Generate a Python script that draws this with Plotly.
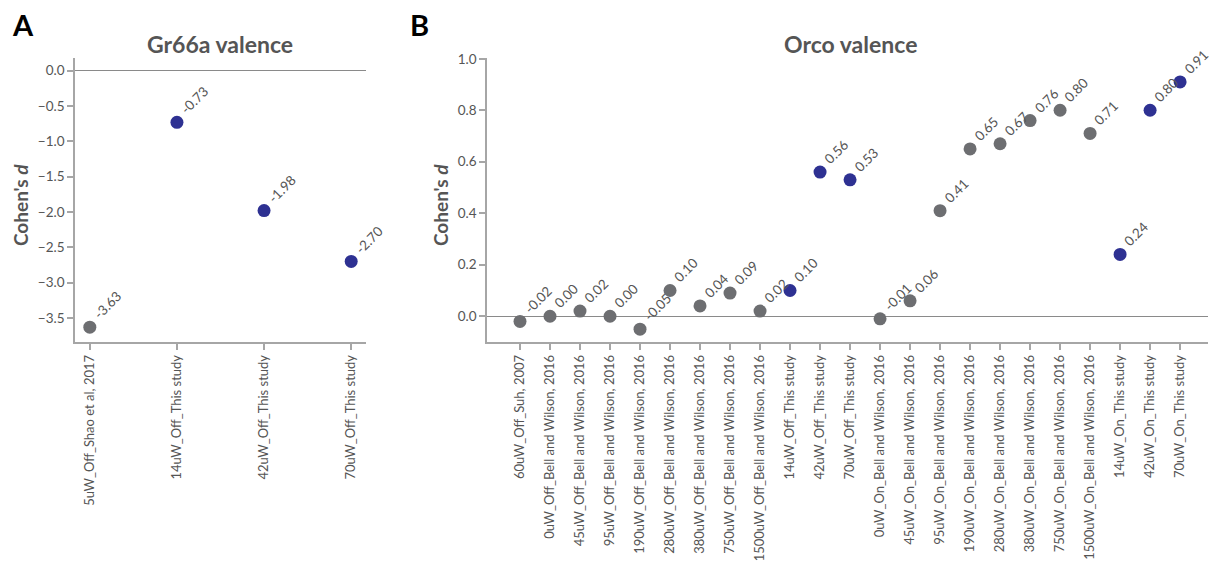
import plotly.graph_objects as go

# Gr66a valence (panel A)
gr66a_labels = ["5uW_Off_Shao et al, 2017", "14uW_Off_This study",
                "42uW_Off_This study", "70uW_Off_This study"]
gr66a_d = [-3.63, -0.73, -1.98, -2.70]

# Orco valence (panel B)
orco_labels = [
    "60uW_Off_Suh, 2007",
    "0uW_Off_Bell and Wilson, 2016",
    "45uW_Off_Bell and Wilson, 2016",
    "95uW_Off_Bell and Wilson, 2016",
    "190uW_Off_Bell and Wilson, 2016",
    "280uW_Off_Bell and Wilson, 2016",
    "380uW_Off_Bell and Wilson, 2016",
    "750uW_Off_Bell and Wilson, 2016",
    "1500uW_Off_Bell and Wilson, 2016",
    "14uW_Off_This study",
    "42uW_Off_This study",
    "70uW_Off_This study",
    "0uW_On_Bell and Wilson, 2016",
    "45uW_On_Bell and Wilson, 2016",
    "95uW_On_Bell and Wilson, 2016",
    "190uW_On_Bell and Wilson, 2016",
    "280uW_On_Bell and Wilson, 2016",
    "380uW_On_Bell and Wilson, 2016",
    "750uW_On_Bell and Wilson, 2016",
    "1500uW_On_Bell and Wilson, 2016",
    "14uW_On_This study",
    "42uW_On_This study",
    "70uW_On_This study",
]
orco_d = [-0.02, 0.00, 0.02, 0.00, -0.05, 0.10, 0.04, 0.09, 0.02, 0.10,
          0.56, 0.53, -0.01, 0.06, 0.41, 0.65, 0.67, 0.76, 0.80, 0.71,
          0.24, 0.80, 0.91]

GRAY = "#6d6e71"
BLUE = "#2e3192"
TEXT = "#555555"
AXIS = "#a6a6a6"
FONT = "Source Sans Pro, Lato, sans-serif"


def colors_for(labels):
    return [BLUE if "This study" in lab else GRAY for lab in labels]


fig = go.Figure()

fig.add_trace(go.Scatter(
    x=gr66a_labels, y=gr66a_d, mode="markers",
    marker=dict(size=13, color=colors_for(gr66a_labels)),
    xaxis="x", yaxis="y", showlegend=False, hoverinfo="x+y",
))
fig.add_trace(go.Scatter(
    x=orco_labels, y=orco_d, mode="markers",
    marker=dict(size=13, color=colors_for(orco_labels)),
    xaxis="x2", yaxis="y2", showlegend=False, hoverinfo="x+y",
))

# rotated value labels next to each point
annotations = []
for xref, yref, labels, vals in (("x", "y", gr66a_labels, gr66a_d),
                                 ("x2", "y2", orco_labels, orco_d)):
    for lab, v in zip(labels, vals):
        annotations.append(dict(
            x=lab, y=v, xref=xref, yref=yref, text=f"{v:.2f}",
            showarrow=False, textangle=-45, xanchor="left", yanchor="bottom",
            xshift=-2, yshift=2, font=dict(family=FONT, size=13.5, color=TEXT),
        ))

H = 565.0
W = 1210.0


def py(px):
    return 1 - px / H


def px_x(px):
    return px / W


# panel letters, titles and axis titles
annotations += [
    dict(text="<b>A</b>", x=px_x(10), y=py(25), xref="paper", yref="paper",
         xanchor="left", yanchor="middle", showarrow=False,
         font=dict(family=FONT, size=29, color="black")),
    dict(text="<b>B</b>", x=px_x(408), y=py(25), xref="paper", yref="paper",
         xanchor="left", yanchor="middle", showarrow=False,
         font=dict(family=FONT, size=29, color="black")),
    dict(text="<b>Gr66a valence</b>", x=px_x(220), y=py(44), xref="paper",
         yref="paper", xanchor="center", yanchor="middle", showarrow=False,
         font=dict(family=FONT, size=23, color=TEXT)),
    dict(text="<b>Orco valence</b>", x=px_x(850), y=py(44), xref="paper",
         yref="paper", xanchor="center", yanchor="middle", showarrow=False,
         font=dict(family=FONT, size=23, color=TEXT)),
    dict(text="<b>Cohen's <i>d</i></b>", x=px_x(20), y=py(205), xref="paper",
         yref="paper", xanchor="center", yanchor="middle", showarrow=False,
         textangle=-90, font=dict(family=FONT, size=19, color=TEXT)),
    dict(text="<b>Cohen's <i>d</i></b>", x=px_x(440), y=py(205), xref="paper",
         yref="paper", xanchor="center", yanchor="middle", showarrow=False,
         textangle=-90, font=dict(family=FONT, size=19, color=TEXT)),
]

y_dom = [py(342), py(58)]

xaxis_common = dict(
    type="category", showgrid=False, zeroline=False, showline=True,
    linecolor=AXIS, linewidth=1.5, ticks="outside", ticklen=6,
    tickcolor=AXIS, tickwidth=1.5, tickangle=-90, automargin=False,
    tickfont=dict(family=FONT, size=13, color=TEXT),
)
yaxis_common = dict(
    showgrid=False, zeroline=True, zerolinecolor="#8a8a8a", zerolinewidth=1,
    showline=True, linecolor=AXIS, linewidth=1.5, ticks="outside",
    ticklen=6, tickcolor=AXIS, tickwidth=1.5, tickformat=".1f",
    automargin=False, tickfont=dict(family=FONT, size=13.5, color=TEXT),
)

fig.update_layout(
    width=1210, height=565,
    margin=dict(l=0, r=0, t=0, b=0),
    paper_bgcolor="white", plot_bgcolor="white",
    font=dict(family=FONT, color=TEXT),
    xaxis=dict(domain=[px_x(75), px_x(366)], range=[-0.17, 3.17],
               anchor="y", **xaxis_common),
    yaxis=dict(domain=y_dom, range=[-3.84, 0.18], anchor="x",
               tickvals=[0.0, -0.5, -1.0, -1.5, -2.0, -2.5, -3.0, -3.5],
               **yaxis_common),
    xaxis2=dict(domain=[px_x(487), px_x(1208)], range=[-1.1, 22.93],
                anchor="y2", **xaxis_common),
    yaxis2=dict(domain=y_dom, range=[-0.1, 1.003], anchor="x2",
                tickvals=[0.0, 0.2, 0.4, 0.6, 0.8, 1.0], **yaxis_common),
    annotations=annotations,
)

fig.write_html("out.html")
